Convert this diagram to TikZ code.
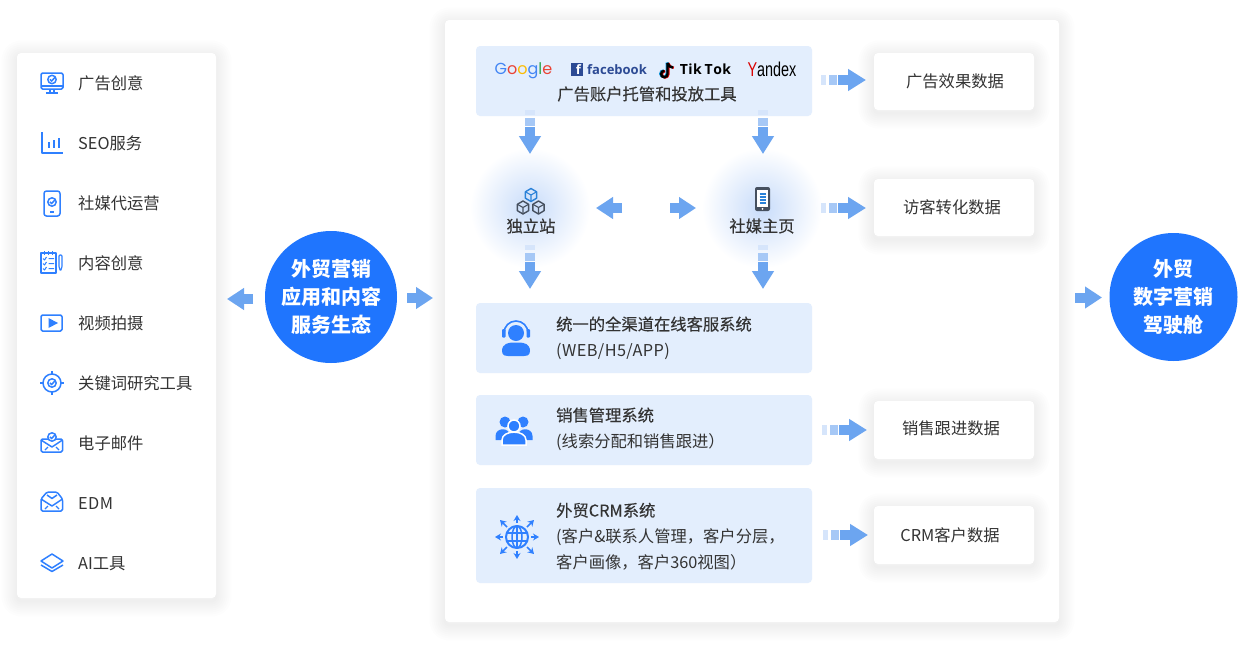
\documentclass[tikz,border=0pt]{standalone}
\usepackage{fontspec}
\setmainfont{Noto Sans CJK SC}
\newfontfamily\medfont{Noto Sans CJK SC}[FakeBold=0.25]
\newfontfamily\spacedfont{Noto Sans CJK SC}[LetterSpace=2.5]
\newfontfamily\gfont{Poppins}
\newfontfamily\lfont{Open Sans}
\newfontfamily\yfont{Liberation Sans}
\usetikzlibrary{arrows.meta}
\definecolor{hubblue}{HTML}{1F75FE}
\definecolor{iconblue}{HTML}{2F80FF}
\definecolor{boxblue}{HTML}{E3EEFD}
\definecolor{glowblue}{HTML}{C8DCFA}
\definecolor{txt}{HTML}{333333}
\definecolor{flowc}{HTML}{6CA5F0}
\definecolor{flowb}{HTML}{A6C8F6}
\definecolor{flowa}{HTML}{D6E5FB}
\definecolor{cubedark}{HTML}{46505F}
\definecolor{cubeblue}{HTML}{2B82D8}
\definecolor{fbblue}{HTML}{2C4A94}
\tikzset{
  soft/.style={preaction={draw=black,draw opacity=.006,line width=#1,line join=round,transform canvas={yshift=-3pt}}},
  panel/.style={fill=white,rounded corners=4pt,inner sep=0pt,soft=3pt,soft=7pt,soft=11pt,soft=15pt,soft=19pt,soft=23pt,soft=27pt,soft=31pt},
  bluebox/.style={fill=boxblue,rounded corners=4pt,inner sep=0pt,minimum width=336pt},
  hub/.style={circle,fill=hubblue,text=white,inner sep=0pt,align=center,font=\fontsize{20}{28}\selectfont\bfseries},
  glow/.style={circle,inner sep=0pt,minimum size=120pt,inner color=glowblue,outer color=white},
  label/.style={text=txt,inner sep=0pt,font=\fontsize{16.3}{26}\selectfont},
  item/.style={label,anchor=west,text height=14pt,text depth=2pt},
  llabel/.style={label,anchor=west,align=left},
  boldlabel/.style={label,font=\medfont\fontsize{16.3}{26}\selectfont},
  flow/.style={line width=10pt,flowc,shorten <=17pt,-{Triangle[width=21pt,length=18pt]},
    preaction={draw=flowa,-,shorten <=0pt,line width=10pt,dash pattern=on 5pt off 400pt},
    preaction={draw=flowb,-,shorten <=0pt,line width=10pt,dash pattern=on 0pt off 8pt on 8pt off 400pt}},
  shortflow/.style={line width=10pt,flowc,-{Triangle[width=21pt,length=17pt]}},
  iconline/.style={draw=iconblue,line width=1.5pt,line join=round},
  pics/iconcheck/.style={code={
    \draw[iconline,fill=white] (0,0) circle (4.2);
    \draw[iconline] (-2,-0.2) -- (-0.4,1.6) -- (3,-2.2);
  }},
  pics/iconscreen/.style={code={
    \draw[iconline,rounded corners=1.5pt] (-11,-10) rectangle (11,6);
    \draw[iconline] (-11,3) -- (11,3);
    \draw[iconline] (-2,6) -- (-2,10) (2,6) -- (2,10) (-6,10) -- (6,10);
    \pic at (0,-3.5) {iconcheck};
  }},
  pics/iconchart/.style={code={
    \draw[iconline,line width=2pt] (-10,-11) -- (-10,10) -- (11,10);
    \draw[iconline,line width=1.1pt] (-3,-1) -- (-3,5) (2,-3) -- (2,5) (7,-5) -- (7,5);
  }},
  pics/iconphone/.style={code={
    \draw[iconline,rounded corners=2.5pt] (-8,-12) rectangle (8,13);
    \pic at (0,-1) {iconcheck};
    \draw[iconline] (-2,9) -- (2,9);
  }},
  pics/iconnote/.style={code={
    \draw[iconline] (-10,-10) rectangle (5,10);
    \draw[iconline,line width=1pt] (-7,-12) -- (-7,-8) (-3,-12) -- (-3,-8) (1,-12) -- (1,-8);
    \draw[iconline,line width=1pt] (-8,-4.5) -- (-6.5,-3) -- (-4.5,-6) (-2.5,-4.5) -- (3,-4.5);
    \draw[iconline,line width=1pt] (-8,0.5) -- (-6.5,2) -- (-4.5,-1) (-2.5,0.5) -- (3,0.5);
    \draw[iconline,line width=1pt] (-8,5.5) -- (-6.5,7) -- (-4.5,4) (-2.5,5.5) -- (3,5.5);
    \draw[iconline,line width=1.2pt,rounded corners=1pt] (8,4) -- (8,-8) -- (11,-8) -- (11,4) -- (9.5,8) -- cycle;
  }},
  pics/iconvideo/.style={code={
    \draw[iconline,rounded corners=1.5pt] (-11,-8) rectangle (10,8);
    \fill[iconblue] (-3.5,-5) -- (6,0) -- (-3.5,5) -- cycle;
  }},
  pics/icontarget/.style={code={
    \draw[iconline] (0,0) circle (9);
    \draw[iconline] (0,-12) -- (0,-8) (0,8) -- (0,12) (-12,0) -- (-8,0) (8,0) -- (12,0);
    \pic at (0,0) {iconcheck};
  }},
  pics/iconmailcheck/.style={code={
    \draw[iconline,rounded corners=1.5pt] (-11,-4) rectangle (10.5,9);
    \draw[iconline] (-11,-3) -- (0,4) -- (10.5,-3);
    \draw[iconline,line width=1.1pt] (-7,7) -- (-4,4) (7,7) -- (4,4);
    \pic at (0,-6) {iconcheck};
  }},
  pics/iconmail/.style={code={
    \draw[iconline,rounded corners=1.5pt] (-11,-4) -- (-5,-11) -- (5,-11) -- (10.5,-4) -- (10.5,8) -- (-11,8) -- cycle;
    \draw[iconline] (-11,-4) -- (0,3) -- (10.5,-4) (-5,-8) -- (0,-4.5) -- (5,-8);
    \draw[iconline,line width=1.1pt] (-7,6) -- (-4,3) (7,6) -- (4,3);
  }},
  pics/iconlayers/.style={code={
    \draw[iconline] (-11,-2) -- (0,-9) -- (11,-2) -- (0,5) -- cycle;
    \draw[iconline] (-11,2) -- (0,8.5) -- (11,2);
  }},
  pics/iconcube/.style={code={
    \draw[line width=1.4pt,line join=round] (0,-6.5) -- (5.6,-3.2) -- (5.6,3.2) -- (0,6.5) -- (-5.6,3.2) -- (-5.6,-3.2) -- cycle;
    \draw[line width=1.1pt,line join=round] (-5.6,-3.2) -- (0,0) -- (5.6,-3.2) (0,0) -- (0,6.5);
  }},
  pics/iconmobile/.style={code={
    \fill[cubedark,rounded corners=2pt] (-7.5,-12) rectangle (7.5,12);
    \fill[white] (-5.5,-9) rectangle (5.5,7.5);
    \draw[cubeblue,line width=1.1pt] (-3,-5) -- (3,-5) (-3,-2) -- (3,-2) (-3,1) -- (3,1) (-3,4) -- (3,4);
    \fill[white] (0,9.8) circle (1);
  }},
  pics/iconagent/.style={code={
    \fill[iconblue] (0,-5) circle (8);
    \draw[iconline,line width=1.6pt] (-12,-5) arc[start angle=180,end angle=360,radius=12];
    \fill[iconblue,rounded corners=1pt] (-14,-9) rectangle (-10.5,-0.5) (10.5,-9) rectangle (14,-0.5);
    \fill[iconblue] (-14,13) .. controls (-14,6) and (-8,4.5) .. (-3,4.5) -- (3,4.5) .. controls (8,4.5) and (14,6) .. (14,13) .. controls (14,18) and (10,18) .. (8,18) -- (-8,18) .. controls (-10,18) and (-14,18) .. (-14,13) -- cycle;
  }},
  pics/icongroup/.style={code={
    \fill[iconblue] (-9,-8) circle (5.5) (9,-8) circle (5.5);
    \fill[iconblue] (-18.5,10) -- (-18.5,6) .. controls (-18.5,-3) and (-4,-3) .. (-4,6) -- (-4,10) -- cycle;
    \fill[iconblue] (18.5,10) -- (18.5,6) .. controls (18.5,-3) and (4,-3) .. (4,6) -- (4,10) -- cycle;
    \draw[white,fill=iconblue,line width=1.5pt] (0,-4) circle (6);
    \draw[white,fill=iconblue,line width=1.5pt] (-12,15) -- (-12,10) .. controls (-12,-0.5) and (12,-0.5) .. (12,10) -- (12,15) -- cycle;
  }},
  pics/iconglobe/.style={code={
    \draw[iconline,line width=2pt] (0,0) circle (11);
    \draw[iconline] (0,0) ellipse (5 and 11);
    \draw[iconline] (0,-11) -- (0,11) (-10,-4) -- (10,-4) (-10,4) -- (10,4);
    \draw[iconline,-{Stealth[length=6pt,width=7pt]}] (0,-14) -- (0,-22);
    \draw[iconline,-{Stealth[length=6pt,width=7pt]}] (0,14) -- (0,22);
    \draw[iconline,-{Stealth[length=6pt,width=7pt]}] (-14,0) -- (-22,0);
    \draw[iconline,-{Stealth[length=6pt,width=7pt]}] (14,0) -- (22,0);
    \draw[iconline,-{Stealth[length=6pt,width=7pt]}] (-10,-10) -- (-17,-17);
    \draw[iconline,-{Stealth[length=6pt,width=7pt]}] (10,-10) -- (17,-17);
    \draw[iconline,-{Stealth[length=6pt,width=7pt]}] (-10,10) -- (-17,17);
    \draw[iconline,-{Stealth[length=6pt,width=7pt]}] (10,10) -- (17,17);
  }},
  pics/ticnote/.style={code={
    \draw[line width=2.4pt] (1,-7) -- (1,4) arc[start angle=0,end angle=270,radius=3.2];
    \draw[line width=2.4pt] (1,-7) .. controls (1.5,-4) and (4,-2.5) .. (6.5,-2.5);
  }}
}
\begin{document}
\begin{tikzpicture}[>=stealth,x=1pt,y=-1pt]
\path[use as bounding box,fill=white] (0,0) rectangle (1254,651);
% panels
\node[panel,minimum width=199pt,minimum height=545pt] (left) at (116.5,325.5) {};
\node[panel,minimum width=614pt,minimum height=602pt] (mid) at (752,321) {};
% left list
\pic at (52,83) {iconscreen};
\pic at (52,143) {iconchart};
\pic at (52,203) {iconphone};
\pic at (51,263) {iconnote};
\pic at (52,323) {iconvideo};
\pic at (52,383) {icontarget};
\pic at (52,443) {iconmailcheck};
\pic at (52,503) {iconmail};
\pic at (52,563) {iconlayers};
\node[item] (t0) at (78,83) {广告创意};
\node[item] (t1) at (78,143) {SEO服务};
\node[item] (t2) at (78,203) {社媒代运营};
\node[item] (t3) at (78,263) {内容创意};
\node[item] (t4) at (78,323) {视频拍摄};
\node[item] (t5) at (78,383) {关键词研究工具};
\node[item] (t6) at (78,443) {电子邮件};
\node[item] (t7) at (78,503) {{\spacedfont EDM}};
\node[item] (t8) at (78,563) {AI工具};
% hubs
\node[hub,minimum size=132pt] (h0) at (331,297) {外贸营销\\应用和内容\\服务生态};
\node[hub,minimum size=128pt] (h1) at (1173.5,297) {外贸\\数字营销\\驾驶舱};
% blue boxes
\node[bluebox,minimum height=70pt] (b0) at (644,81) {};
\node[bluebox,minimum height=70pt] (b1) at (644,338) {};
\node[bluebox,minimum height=70pt] (b2) at (644,430) {};
\node[bluebox,minimum height=95pt] (b3) at (644,535.5) {};
% logos
\node[inner sep=0pt,font=\gfont\fontsize{16}{16}\selectfont] (google) at (523.5,71) {\textcolor[HTML]{4285F4}{G}\textcolor[HTML]{EA4335}{o}\textcolor[HTML]{FBBC05}{o}\textcolor[HTML]{4285F4}{g}\textcolor[HTML]{34A853}{l}\textcolor[HTML]{EA4335}{e}};
\node[fill=fbblue,text=white,inner sep=0pt,minimum size=12.5pt,font=\lfont\fontsize{13}{13}\selectfont\bfseries] (fb) at (577,69.5) {\kern3pt f};
\node[inner sep=0pt,text=fbblue,font=\lfont\fontsize{13}{13}\selectfont\bfseries] (fbtext) at (617,69.5) {facebook};
\pic[color=cyan!80!blue] at (665.7,69.7) {ticnote};
\pic[color=red!90!black] at (667.3,70.3) {ticnote};
\pic[color=black] at (666.5,70) {ticnote};
\node[inner sep=0pt,text=black,font=\lfont\fontsize{14}{15}\selectfont\bfseries] (tiktok) at (705.5,69.5) {T\kern.5pt i\kern.3pt k\kern3pt T\kern.5pt o\kern.5pt k};
\node[inner sep=0pt,xscale=.72,font=\yfont\fontsize{20}{20}\selectfont] (yandex) at (772,69.5) {\textcolor{red!85!black}{Y}andex};
\node[boldlabel] (b0t) at (647,94) {广告账户托管和投放工具};
% glows
\node[glow] (g0) at (530,208) {};
\node[glow] (g1) at (762,208) {};
\pic[color=cubeblue] at (531,195) {iconcube};
\pic[color=cubedark] at (523,207.5) {iconcube};
\pic[color=cubedark] at (538.5,207.5) {iconcube};
\pic at (762.5,199) {iconmobile};
\node[boldlabel] (s0) at (531,226) {独立站};
\node[boldlabel] (s1) at (762,226) {社媒主页};
% box texts
\pic at (516,338) {iconagent};
\pic at (514,430) {icongroup};
\pic at (517,537) {iconglobe};
\node[llabel] (b1t) at (556,338) {{\medfont 统一的全渠道在线客服系统}\\{\spacedfont (WEB/H5/APP)}};
\node[llabel] (b2t) at (556,429) {{\medfont 销售管理系统}\\(线索分配和销售跟进）};
\node[llabel] (b3t) at (556,536.5) {{\medfont 外贸CRM系统}\\(客户\&联系人管理，客户分层，\\客户画像，客户360视图）};
% data boxes
\node[panel,minimum width=160pt,minimum height=57pt] (d0) at (954,81.5) {};
\node[panel,minimum width=160pt,minimum height=57pt] (d1) at (954,207.5) {};
\node[panel,minimum width=160pt,minimum height=58pt] (d2) at (954,430) {};
\node[panel,minimum width=160pt,minimum height=58pt] (d3) at (954,535) {};
\node[label] (d0t) at (955,81) {广告效果数据};
\node[label] (d1t) at (952,207) {访客转化数据};
\node[label] (d2t) at (951,428) {销售跟进数据};
\node[label] (d3t) at (950,535) {CRM客户数据};
% arrow ends
\coordinate (a0) at (530,110); \coordinate (a1) at (530,154);
\coordinate (a2) at (763,110); \coordinate (a3) at (763,154);
\coordinate (a4) at (530,245); \coordinate (a5) at (530,289);
\coordinate (a6) at (763,245); \coordinate (a7) at (763,289);
\coordinate (c0) at (821,80); \coordinate (c1) at (866,80);
\coordinate (c2) at (821,208); \coordinate (c3) at (866,208);
\coordinate (c4) at (822,430); \coordinate (c5) at (867,430);
\coordinate (c6) at (823,535); \coordinate (c7) at (868,535);
\coordinate (e0) at (622,208); \coordinate (e1) at (596,208);
\coordinate (e2) at (670,208); \coordinate (e3) at (696,208);
\coordinate (e4) at (253,299); \coordinate (e5) at (227,299);
\coordinate (e6) at (407,298); \coordinate (e7) at (433,298);
\coordinate (e8) at (1075,297.5); \coordinate (e9) at (1102,297.5);
\draw[flow] (a0) -- (a1);
\draw[flow] (a2) -- (a3);
\draw[flow] (a4) -- (a5);
\draw[flow] (a6) -- (a7);
\draw[flow] (c0) -- (c1);
\draw[flow] (c2) -- (c3);
\draw[flow] (c4) -- (c5);
\draw[flow] (c6) -- (c7);
\draw[shortflow] (e0) -- (e1);
\draw[shortflow] (e2) -- (e3);
\draw[shortflow] (e4) -- (e5);
\draw[shortflow] (e6) -- (e7);
\draw[shortflow] (e8) -- (e9);
\end{tikzpicture}
\end{document}
